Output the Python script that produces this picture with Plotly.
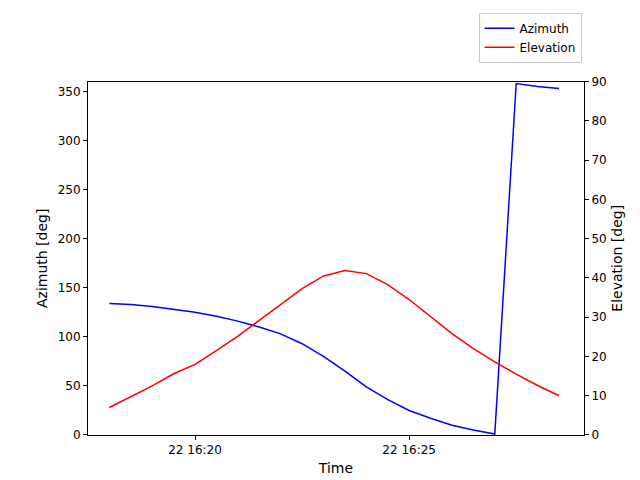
import plotly.graph_objects as go
import pandas as pd

times = pd.date_range("2024-01-22 16:18:00", periods=22, freq="30s")
azimuth = [134, 133, 131, 128, 125, 121, 116, 110, 103, 93, 80, 65, 49, 36, 25, 17, 10, 5, 1, 358, 355, 353]
elevation = [7, 9.7, 12.5, 15.6, 18.0, 21.5, 25.2, 29.2, 33.3, 37.3, 40.5, 41.9, 41.1, 38.3, 34.5, 30.1, 25.8, 22.0, 18.6, 15.5, 12.6, 10.0]

fig = go.Figure()
fig.add_trace(go.Scatter(x=times, y=azimuth, mode="lines", name="Azimuth",
                         line=dict(color="blue", width=1.5)))
fig.add_trace(go.Scatter(x=times, y=elevation, mode="lines", name="Elevation",
                         line=dict(color="red", width=1.5), yaxis="y2"))
axis_common = dict(showgrid=False, zeroline=False, showline=True, linecolor="black",
                   ticks="outside", ticklen=4, tickcolor="black",
                   tickfont=dict(size=12, color="black"))
fig.update_layout(
    width=640, height=480, plot_bgcolor="white", paper_bgcolor="white",
    font=dict(family="DejaVu Sans", size=12, color="black"),
    margin=dict(l=80, r=64, t=58, b=53),
    xaxis=dict(**axis_common, range=["2024-01-22 16:17:30", "2024-01-22 16:29:05"],
               tickformat="%d %H:%M", dtick=300000, tick0="2024-01-22 16:20:00",
               title=dict(text="Time", standoff=6), mirror=True),
    yaxis=dict(**axis_common, range=[0, 360], dtick=50, title=dict(text="Azimuth [deg]", standoff=6)),
    yaxis2=dict(**axis_common, range=[0, 90], dtick=10, overlaying="y", side="right",
                title=dict(text="Elevation [deg]", standoff=6)),
    legend=dict(x=0.995, y=0.99, xref="paper", yref="container", xanchor="right", yanchor="top",
                bordercolor="#cccccc", borderwidth=1, bgcolor="white", font=dict(size=12)),
    showlegend=True,
)
fig.write_html("out.html")
